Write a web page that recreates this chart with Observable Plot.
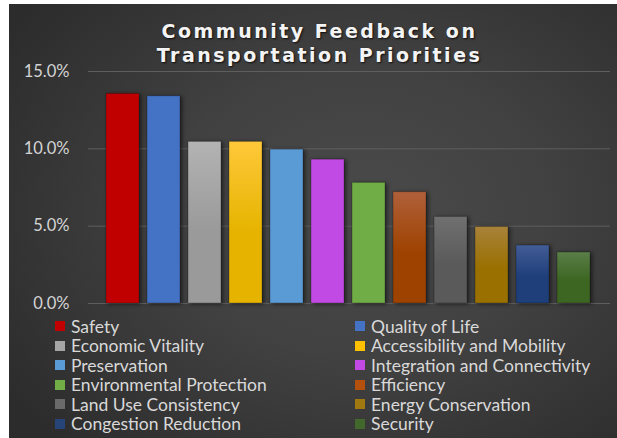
<!DOCTYPE html>
<html>
<head>
<meta charset="utf-8">
<script src="https://cdn.jsdelivr.net/npm/d3@7"></script>
<script src="https://cdn.jsdelivr.net/npm/@observablehq/plot@0.6"></script>
<style>
  html, body { margin: 0; padding: 0; background: #ffffff; width: 617px; height: 438px; overflow: hidden; }
  #panel {
    position: absolute; left: 9px; top: 4px; width: 608px; height: 434px;
    background: radial-gradient(ellipse 70% 75% at 58% 48%, #4b4b4b 0%, #414141 45%, #2c2c2c 100%);
  }
  #title {
    position: absolute; left: 11px; top: 19px; width: 617px; text-align: center;
    font-family: "DejaVu Sans", sans-serif; font-weight: bold; font-size: 19px;
    letter-spacing: 2.5px; line-height: 24px; color: #f4f4f4;
    text-shadow: 1px 1px 2px rgba(0,0,0,0.8);
  }
  #chart { position: absolute; left: 0; top: 60px; }
  #legend { position: absolute; left: 0; top: 0; width: 617px; height: 438px;
    font-family: Lato, "Liberation Sans", sans-serif; font-size: 17.5px; color: #d9d9d9; }
  .item { position: absolute; display: flex; align-items: center; height: 20px; white-space: nowrap; }
  .sw { width: 10px; height: 10px; margin-right: 6px; }
</style>
</head>
<body>
<div id="panel"></div>
<div id="title">Community Feedback on<br>Transportation Priorities</div>
<div id="chart"></div>
<div id="legend"></div>
<script>
const categories = ["Safety", "Quality of Life", "Economic Vitality", "Accessibility and Mobility",
  "Preservation", "Integration and Connectivity", "Environmental Protection", "Efficiency",
  "Land Use Consistency", "Energy Conservation", "Congestion Reduction", "Security"];
const values = [13.55, 13.4, 10.45, 10.45, 9.95, 9.3, 7.8, 7.2, 5.6, 4.95, 3.75, 3.3];
const topColors = ["#c00000", "#4472c4", "#b3b3b3", "#ffc83a", "#5b9bd5", "#c24ae4", "#70ad47",
  "#b0603a", "#707070", "#a8823a", "#425c96", "#5a7e48"];
const bottomColors = ["#c00000", "#4472c4", "#9a9a9a", "#e6b400", "#5b9bd5", "#c24ae4", "#70ad47",
  "#9e4200", "#5a5a5a", "#9a7000", "#1f3f7a", "#3d6622"];
const swatchColors = ["#c00000", "#4472c4", "#a5a5a5", "#ffc000", "#5b9bd5", "#c24ae4", "#70ad47",
  "#b4500e", "#6a6a6a", "#a07a10", "#264478", "#43682b"];
const yTicks = [0, 5, 10, 15];

const data = categories.map((name, i) => ({name, value: values[i], i}));

const chart = Plot.plot({
  width: 617,
  height: 260,
  marginTop: 11,
  marginBottom: 17,
  marginLeft: 96,
  marginRight: 17,
  style: {background: "transparent", fontFamily: "Lato, 'Liberation Sans', sans-serif"},
  x: {domain: categories, padding: 0.2, axis: null},
  y: {domain: [0, 15], ticks: yTicks, tickFormat: d => d.toFixed(1) + "%", tickSize: 0, tickPadding: 27, label: null},
  color: {type: "identity"},
  marks: [
    Plot.ruleY(yTicks, {stroke: "#5e5e5e", strokeWidth: 1, insetLeft: -8, insetRight: -10}),
    Plot.barY(data, {
      x: "name", y: "value",
      fill: d => `url(#grad${d.i})`,
      stroke: "rgba(0,0,0,0.25)", strokeWidth: 1
    })
  ]
});

const svg = d3.select(chart);
const defs = svg.insert("defs", ":first-child");
data.forEach(d => {
  const g = defs.append("linearGradient").attr("id", `grad${d.i}`)
    .attr("x1", 0).attr("y1", 0).attr("x2", 0).attr("y2", 1);
  g.append("stop").attr("offset", "0%").attr("stop-color", topColors[d.i]);
  g.append("stop").attr("offset", "55%").attr("stop-color", bottomColors[d.i]);
  g.append("stop").attr("offset", "100%").attr("stop-color", bottomColors[d.i]);
});
svg.selectAll("rect").style("filter", "drop-shadow(2px 1px 2px rgba(0,0,0,0.55))");
svg.select("[aria-label='y-axis tick label']").attr("font-size", 16.5).attr("fill", "#d4d4d4");
document.getElementById("chart").appendChild(chart);

// legend
const legend = document.getElementById("legend");
categories.forEach((name, i) => {
  const col = i % 2, row = Math.floor(i / 2);
  const item = document.createElement("div");
  item.className = "item";
  item.style.left = (col === 0 ? 55 : 355) + "px";
  item.style.top = (316 + row * 19.5) + "px";
  const sw = document.createElement("div");
  sw.className = "sw";
  sw.style.background = swatchColors[i];
  const t = document.createElement("span");
  t.textContent = name;
  item.appendChild(sw); item.appendChild(t);
  legend.appendChild(item);
});
</script>
</body>
</html>
